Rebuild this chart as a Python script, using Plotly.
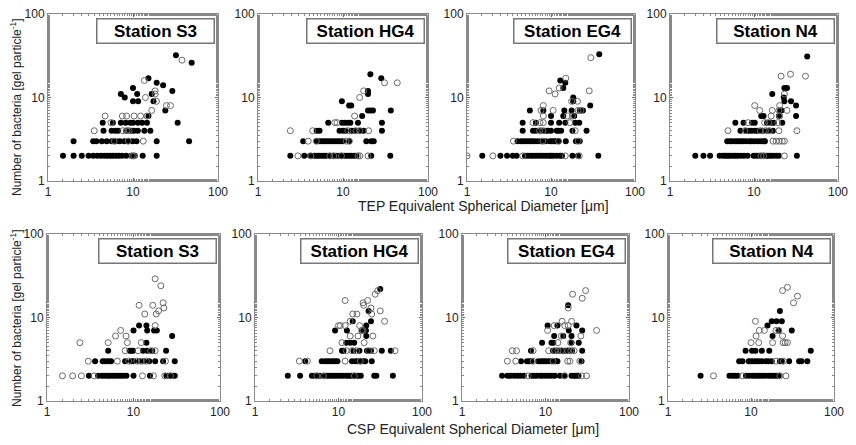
import plotly.graph_objects as go
from plotly.subplots import make_subplots

# bacteria per gel particle vs equivalent spherical diameter, 4 stations, TEP (top) and CSP (bottom)
# each panel: {bacteria count: [diameters]} for filled and open symbols

stations = ['Station S3', 'Station HG4', 'Station EG4', 'Station N4']

tep_s3_filled = {
    2: [1.5, 2.0, 2.5, 3.0, 3.4, 3.8, 4.2, 4.6, 5.0, 5.4, 5.8, 6.3, 6.8, 7.4, 8.3, 9.5, 10.5, 13.0, 19.0],
    3: [2.0, 3.4, 3.7, 4.3, 4.9, 5.6, 6.3, 7.0, 7.9, 8.7, 9.9, 11.0, 19.0, 45.7],
    4: [4.5, 5.6, 6.2, 6.7, 8.3, 9.6, 10.3, 11.4, 13.6, 16.0],
    5: [4.4, 5.8, 7.2, 8.2, 9.3, 10.0, 11.4, 12.8, 14.6, 33.5],
    6: [15.2], 7: [24.0], 9: [10.0, 11.5, 17.4], 10: [8.0], 11: [7.2, 11.2, 16.6],
    12: [29.0], 13: [10.0], 14: [22.6], 15: [19.0], 17: [15.2], 26: [49.0], 32: [32.0],
}
tep_s3_open = {
    2: [9.8, 10.2], 3: [6.0, 8.8, 13.2], 4: [3.5, 7.6, 8.5, 9.0], 5: [5.5],
    6: [4.7, 7.5, 8.4, 10.3, 12.3, 14.6], 7: [16.6], 8: [24.7, 27.6], 9: [18.9],
    10: [14.0], 11: [18.2], 12: [18.2], 16: [13.6], 28: [37.7],
}

tep_hg4_filled = {
    2: [2.4, 3.5, 4.1, 4.6, 4.9, 5.2, 5.6, 6.0, 6.4, 7.0, 7.6, 8.3, 9.0, 9.6, 10.3, 11.0, 11.8, 12.6, 13.5, 14.4, 21.5, 36.0],
    3: [3.4, 4.9, 5.2, 5.6, 6.0, 6.4, 6.9, 7.4, 8.0, 8.6, 9.2, 10.0, 11.8, 18.8, 21.5, 23.0],
    4: [4.9, 5.3, 9.1, 10.0, 10.7, 12.6, 13.7, 16.0, 17.5, 28.7],
    5: [6.7, 9.7, 10.5, 11.4, 12.2, 15.0, 28.7],
    6: [16.8], 7: [19.7, 21.0, 22.5, 36.5], 8: [11.8, 12.5], 9: [9.7],
    11: [19.7], 12: [19.7], 17: [28.2], 19: [21.0],
}
tep_hg4_open = {
    2: [2.95, 4.2, 7.0, 7.8, 9.6, 15.0, 15.8, 19.7],
    3: [3.9, 4.85, 10.9, 11.9], 4: [2.4, 4.4, 11.4, 14.3, 15.7, 20.0],
    5: [8.0, 8.5], 6: [13.7], 10: [15.7], 12: [17.5], 15: [30.8, 43.5],
}

tep_eg4_filled = {
    2: [1.52, 2.5, 3.0, 3.5, 3.9, 4.9, 5.3, 5.7, 6.1, 6.6, 7.1, 7.6, 8.2, 8.8, 9.5, 10.0, 10.6, 11.6, 12.7, 13.5, 18.0, 21.0, 36.6],
    3: [4.0, 4.4, 4.7, 5.1, 5.5, 5.9, 6.3, 6.9, 7.6, 8.6, 9.7, 10.3, 11.0, 11.6, 12.3, 15.0, 19.8, 22.0],
    4: [4.6, 6.1, 6.6, 7.6, 8.6, 9.2, 10.0, 11.7, 12.3, 13.2, 18.0, 26.5],
    5: [4.6, 6.6, 10.0, 12.5, 14.8, 19.4, 21.7],
    6: [10.0, 14.0, 18.9], 7: [5.6, 8.1, 14.4, 17.6, 22.0, 24.0], 8: [29.3],
    9: [18.4], 10: [18.4], 13: [14.0], 15: [14.8], 16: [12.9], 33: [37.5],
}
tep_eg4_open = {
    2: [1.0, 2.03, 4.6, 14.8, 21.7], 3: [3.57, 8.0, 12.3, 21.0],
    4: [7.3, 8.0, 19.4], 5: [6.1, 7.4, 8.1, 16.8], 6: [8.1, 15.7, 18.0],
    7: [7.6, 10.6, 21.0, 22.7], 8: [8.1], 9: [17.6, 20.7], 11: [11.2],
    12: [9.5, 28.5], 13: [12.5], 17: [15.0], 30: [29.8],
}

tep_n4_filled = {
    2: [2.0, 2.5, 3.0, 3.9, 4.3, 4.6, 4.9, 5.2, 5.6, 6.0, 6.4, 7.0, 7.6, 8.4, 9.9, 10.6, 11.4, 12.5, 13.7, 14.6, 15.6, 16.8, 18.4, 19.8, 32.4],
    3: [4.8, 5.2, 5.5, 6.0, 6.4, 6.9, 7.4, 8.0, 8.8, 9.4, 10.2, 11.2, 12.2, 13.2, 13.5],
    4: [6.9, 8.1, 8.7, 9.4, 10.3, 11.0, 12.6, 14.6, 16.8],
    5: [6.0, 7.5, 9.5, 10.2, 14.3, 16.0, 17.2, 21.7],
    6: [12.2, 13.0, 19.8, 31.7], 7: [20.5, 21.2], 8: [31.7], 9: [23.0, 27.6],
    10: [22.6], 11: [16.5], 13: [23.0, 24.7], 31: [43.0],
}
tep_n4_open = {
    2: [12.1, 13.0, 23.0], 3: [16.8, 18.4, 20.0, 21.7, 23.0],
    4: [4.9, 7.8, 11.9, 13.7, 15.3, 19.8, 32.4], 5: [8.5, 13.4, 15.0, 19.2],
    6: [16.0, 20.2], 7: [11.7, 16.5, 19.8, 24.7], 8: [10.2, 20.2], 11: [23.0],
    18: [21.0, 41.0], 19: [27.2],
}

csp_s3_filled = {
    2: [3.05, 3.9, 4.3, 4.6, 5.0, 5.3, 5.7, 6.1, 6.6, 7.1, 7.6, 8.3, 10.0, 15.5, 24.0, 26.0, 28.0, 30.0],
    3: [3.6, 4.4, 4.7, 5.1, 5.5, 8.0, 9.4, 10.0, 11.6, 13.2, 15.2, 17.8, 22.0, 30.0],
    4: [5.1, 9.0, 9.4, 9.9, 12.9, 14.4, 16.5, 23.8],
    5: [14.1], 6: [28.0], 7: [10.0, 14.4, 17.3, 18.6], 8: [11.6, 14.1],
}
csp_s3_open = {
    2: [1.51, 1.98, 2.5, 3.5, 12.7, 17.0, 23.0, 26.8],
    3: [3.0, 6.5, 8.8, 10.9, 12.3, 14.1, 23.4], 4: [8.0, 11.3, 15.7, 17.8],
    5: [2.4, 5.1, 8.5, 12.3], 6: [6.2, 8.2], 7: [7.1], 8: [17.8],
    11: [13.5, 18.3], 12: [19.5], 13: [22.4], 14: [11.6, 16.7], 15: [22.0],
    24: [20.7], 29: [17.8],
}

csp_hg4_filled = {
    2: [2.47, 3.47, 4.8, 5.2, 5.6, 6.0, 6.9, 7.4, 7.9, 8.5, 9.1, 9.7, 10.5, 11.3, 12.4, 13.2, 14.1, 15.1, 16.2, 17.3, 18.5, 26.8, 28.4, 44.8],
    3: [4.0, 6.3, 6.9, 7.4, 7.9, 8.5, 9.1, 9.7, 14.5, 15.9, 17.0, 18.2, 19.5, 20.9, 25.0],
    4: [11.0, 11.5, 15.1, 17.8, 21.9, 24.5, 33.0, 42.3],
    5: [12.4, 13.8, 15.4], 6: [21.5], 7: [9.1, 12.6, 19.0, 20.6, 21.3],
    8: [21.5], 9: [14.8, 24.5], 12: [22.9], 22: [31.6],
}
csp_hg4_open = {
    2: [5.5, 6.6, 15.5], 3: [3.4, 4.25, 12.0, 18.2],
    4: [7.9, 12.4, 14.5, 16.4, 22.9, 26.8, 47.6], 5: [11.0, 20.3],
    6: [13.8, 17.1, 25.8], 7: [19.0, 19.7], 8: [10.0, 10.5, 12.0, 17.9],
    9: [13.8, 35.6], 11: [14.8, 16.6, 25.0], 12: [31.6], 13: [24.5],
    14: [20.0], 15: [19.7], 16: [12.0, 22.3], 19: [27.5], 21: [29.5],
}

csp_eg4_filled = {
    2: [3.02, 3.5, 3.8, 4.2, 4.6, 5.0, 5.5, 6.8, 7.3, 7.8, 8.6, 9.2, 10.0, 10.8, 11.8, 12.9, 14.9, 16.8, 20.5, 21.9, 23.3, 24.8],
    3: [5.1, 6.0, 6.4, 6.8, 8.2, 8.9, 9.5, 10.1, 10.9, 11.7, 13.1, 13.9, 27.0],
    4: [6.7, 12.3, 13.5, 14.8, 16.2, 17.4, 19.0, 20.8, 27.5],
    5: [9.1, 11.8, 12.4, 20.5, 25.0], 6: [12.7, 16.3, 20.5], 7: [19.0, 27.5],
    8: [10.6, 13.9, 23.5], 14: [18.7],
}
csp_eg4_open = {
    2: [6.2, 17.0, 27.0, 31.0], 3: [3.5, 4.4, 7.1, 12.3, 18.4, 19.6, 25.8],
    4: [4.0, 4.5, 7.1, 10.9, 12.9, 14.1, 15.5, 18.4, 20.1, 22.0],
    5: [14.1, 20.0], 6: [15.5, 26.5], 7: [10.6, 40.9], 8: [12.7, 17.0, 18.7],
    9: [15.8, 20.5], 13: [18.7], 17: [27.5], 19: [21.1], 21: [30.2],
}

csp_n4_filled = {
    2: [2.47, 5.5, 6.0, 6.4, 6.9, 8.7, 9.5, 10.4, 11.2, 12.0, 12.8, 13.8, 14.9, 16.3, 17.4, 18.7, 20.0, 21.6],
    3: [7.2, 7.9, 9.4, 10.0, 10.7, 11.5, 12.4, 13.5, 15.1, 16.3, 17.8, 22.3, 23.5, 28.8, 38.0, 40.6, 47.7],
    4: [8.6, 10.3, 11.3, 13.5, 16.6, 52.5],
    6: [18.2], 7: [21.6, 31.0], 8: [15.8], 9: [17.8, 20.3, 23.5], 12: [22.3],
}
csp_n4_open = {
    2: [3.53, 7.9, 22.3, 26.3], 3: [20.0, 24.6],
    5: [10.0, 12.4, 18.2, 24.4, 25.8, 27.5], 6: [11.5, 24.0],
    7: [12.6, 14.5, 20.0, 21.6], 9: [11.3], 15: [32.5], 18: [36.3],
    21: [24.0], 23: [27.5],
}

tep_panels = [(tep_s3_filled, tep_s3_open), (tep_hg4_filled, tep_hg4_open),
              (tep_eg4_filled, tep_eg4_open), (tep_n4_filled, tep_n4_open)]
csp_panels = [(csp_s3_filled, csp_s3_open), (csp_hg4_filled, csp_hg4_open),
              (csp_eg4_filled, csp_eg4_open), (csp_n4_filled, csp_n4_open)]


def flatten(d):
    xs, ys = [], []
    for count, diams in d.items():
        xs += diams
        ys += [count] * len(diams)
    return xs, ys


# page body has an 8px margin, so the figure is 16px smaller than the window
OFF = 8
W, H = 856 - 2 * OFF, 445 - 2 * OFF
fig = make_subplots(rows=2, cols=4)

# panel boxes in window pixels (left, right), rows (top, bottom)
cols_px = [[(48, 218), (258, 428), (467, 635), (670, 838)],
           [(47, 220), (255, 422), (462, 629), (668, 834)]]
rows_px = [(14, 181), (234, 401)]


def px_x(v):
    return (v - OFF) / W


def px_y(v):
    return 1 - (v - OFF) / H


font = 'Arial, Liberation Sans, sans-serif'

for r, panels in enumerate([tep_panels, csp_panels]):
    for c, (filled, opened) in enumerate(panels):
        fx, fy = flatten(filled)
        ox, oy = flatten(opened)
        fig.add_trace(go.Scatter(x=fx, y=fy, mode='markers',
                                 marker=dict(symbol='circle', size=6, color='black'),
                                 showlegend=False), row=r + 1, col=c + 1)
        fig.add_trace(go.Scatter(x=ox, y=oy, mode='markers',
                                 marker=dict(symbol='circle-open', size=6, color='#6a6a6a',
                                             line=dict(width=1)),
                                 showlegend=False), row=r + 1, col=c + 1)

        n = r * 4 + c + 1
        suffix = '' if n == 1 else str(n)
        left, right = cols_px[r][c]
        top, bottom = rows_px[r]
        axis_common = dict(type='log', range=[0, 2], tickvals=[1, 10, 100],
                           ticktext=['1', '10', '100'], showgrid=False, zeroline=False,
                           showline=True, linecolor='#8a8a8a', linewidth=1, mirror='ticks',
                           ticks='inside', ticklen=3, tickcolor='#666', automargin=False,
                           ticklabeloverflow='allow',
                           minor=dict(ticks='inside', ticklen=2, tickcolor='#888', showgrid=False),
                           tickfont=dict(family=font, size=12, color='#222'))
        fig.update_layout(**{
            'xaxis' + suffix: dict(axis_common, domain=[px_x(left), px_x(right)]),
            'yaxis' + suffix: dict(axis_common, domain=[px_y(bottom), px_y(top)]),
        })
        fig.add_annotation(xref='x' + suffix + ' domain', yref='y' + suffix + ' domain',
                           x=0.98, y=0.975, xanchor='right', yanchor='top',
                           text='<b>' + stations[c] + '</b>', showarrow=False,
                           width=114, height=21, bgcolor='white',
                           bordercolor='#777', borderwidth=1.5, borderpad=1,
                           font=dict(family=font, size=17, color='black'))

ytitle = 'Number of bacteria [gel particle<sup>-1</sup>]'
for yc in [107, 318]:
    fig.add_annotation(xref='paper', yref='paper', x=px_x(16), y=px_y(yc),
                       xanchor='center', yanchor='middle',
                       text=ytitle, textangle=-90, showarrow=False,
                       font=dict(family=font, size=12, color='#222'))
fig.add_annotation(xref='paper', yref='paper', x=px_x(483), y=px_y(206),
                   xanchor='center', yanchor='middle',
                   text='TEP Equivalent Spherical Diameter [μm]', showarrow=False,
                   font=dict(family=font, size=14, color='#222'))
fig.add_annotation(xref='paper', yref='paper', x=px_x(473), y=px_y(429),
                   xanchor='center', yanchor='middle',
                   text='CSP Equivalent Spherical Diameter [μm]', showarrow=False,
                   font=dict(family=font, size=14, color='#222'))

fig.update_layout(width=W, height=H, margin=dict(l=0, r=0, t=0, b=0),
                  paper_bgcolor='white', plot_bgcolor='white')

fig.write_html("out.html")
